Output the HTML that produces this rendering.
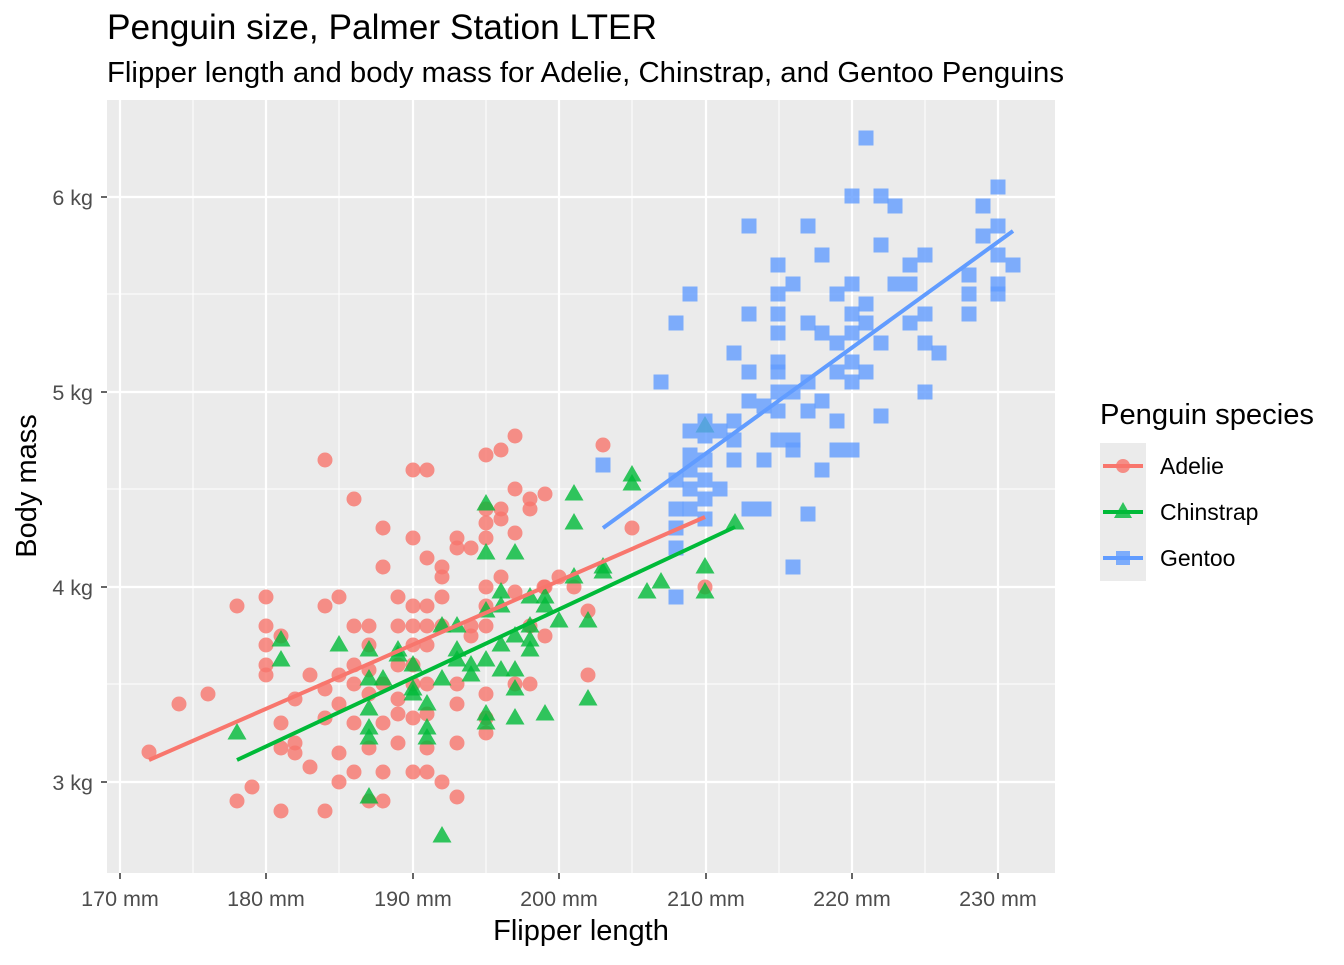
<!DOCTYPE html>
<html><head><meta charset="utf-8"><style>
html,body{margin:0;padding:0;background:#fff}
svg text{font-family:"Liberation Sans",Arial,sans-serif}
</style></head><body>
<svg id="s" width="1344" height="960" xmlns="http://www.w3.org/2000/svg">
<rect x="0" y="0" width="1344" height="960" fill="#fff"/>
<rect x="107" y="100" width="948" height="773" fill="#EBEBEB"/>
<g id="grid"></g>
<g id="pts"></g>
<line x1="149" y1="760" x2="705" y2="517" stroke="#F8766D" stroke-width="4"/>
<line x1="237" y1="760" x2="735" y2="527" stroke="#00BA38" stroke-width="4"/>
<line x1="603" y1="528" x2="1013" y2="231" stroke="#619CFF" stroke-width="4"/>
<text x="107" y="39" font-size="35" fill="#000" textLength="550" lengthAdjust="spacingAndGlyphs">Penguin size, Palmer Station LTER</text>
<text x="107" y="82" font-size="29" fill="#000" textLength="957" lengthAdjust="spacingAndGlyphs">Flipper length and body mass for Adelie, Chinstrap, and Gentoo Penguins</text>
<g font-size="21.5" fill="#4D4D4D" text-anchor="end">
<text x="93" y="205">6 kg</text><text x="93" y="400">5 kg</text><text x="93" y="595">4 kg</text><text x="93" y="790">3 kg</text>
</g>
<g font-size="21.5" fill="#4D4D4D" text-anchor="middle">
<text x="120" y="906">170 mm</text><text x="266" y="906">180 mm</text><text x="413" y="906">190 mm</text><text x="559" y="906">200 mm</text><text x="706" y="906">210 mm</text><text x="852" y="906">220 mm</text><text x="998" y="906">230 mm</text>
</g>
<g stroke="#333" stroke-width="1.5">
<line x1="101" y1="197" x2="107" y2="197"/><line x1="101" y1="392" x2="107" y2="392"/><line x1="101" y1="587" x2="107" y2="587"/><line x1="101" y1="782" x2="107" y2="782"/>
<line x1="120" y1="873" x2="120" y2="879"/><line x1="266" y1="873" x2="266" y2="879"/><line x1="413" y1="873" x2="413" y2="879"/><line x1="559" y1="873" x2="559" y2="879"/><line x1="706" y1="873" x2="706" y2="879"/><line x1="852" y1="873" x2="852" y2="879"/><line x1="998" y1="873" x2="998" y2="879"/>
</g>
<text x="581" y="940" font-size="29" text-anchor="middle">Flipper length</text>
<text transform="translate(36,486) rotate(-90)" font-size="29" text-anchor="middle">Body mass</text>
<text x="1100" y="424" font-size="29" textLength="214" lengthAdjust="spacingAndGlyphs">Penguin species</text>
<rect x="1100" y="443" width="46" height="46" fill="#EBEBEB"/>
<rect x="1100" y="489" width="46" height="46" fill="#EBEBEB"/>
<rect x="1100" y="535" width="46" height="46" fill="#EBEBEB"/>
<line x1="1103" y1="466" x2="1143" y2="466" stroke="#F8766D" stroke-width="4"/>
<circle cx="1123" cy="466" r="7" fill="#F8766D" opacity="0.8"/>
<line x1="1103" y1="512" x2="1143" y2="512" stroke="#00BA38" stroke-width="4"/>
<polygon points="1123,502 1132,518 1114,518" fill="#00BA38" opacity="0.8"/>
<line x1="1103" y1="558" x2="1143" y2="558" stroke="#619CFF" stroke-width="4"/>
<rect x="1116" y="551" width="14" height="14" fill="#619CFF" opacity="0.8"/>
<g font-size="23"><text x="1160" y="474">Adelie</text><text x="1160" y="520">Chinstrap</text><text x="1160" y="566">Gentoo</text></g>
</svg>
<script>
var NS="http://www.w3.org/2000/svg",g=document.getElementById('grid'),p=document.getElementById('pts');
function el(t,a,par){var e=document.createElementNS(NS,t);for(var k in a)e.setAttribute(k,a[k]);par.appendChild(e);return e;}
[193,339,486,632,779,925].forEach(function(x){el('line',{x1:x,y1:100,x2:x,y2:873,stroke:'#fff','stroke-width':1},g)});
[294,489,684].forEach(function(y){el('line',{x1:107,y1:y,x2:1055,y2:y,stroke:'#fff','stroke-width':1},g)});
[120,266,413,559,706,852,998].forEach(function(x){el('line',{x1:x,y1:100,x2:x,y2:873,stroke:'#fff','stroke-width':2.2},g)});
[197,392,587,782].forEach(function(y){el('line',{x1:107,y1:y,x2:1055,y2:y,stroke:'#fff','stroke-width':2.2},g)});
var A=[[149,752],[179,704],[208,694],[237,606],[237,801],[252,787],[266,597],[266,626],[266,645],[266,665],[266,675],[281,636],[281,723],[281,748],[281,811],[295,699],[295,743],[295,753],[310,675],[310,767],[325,460],[325,606],[325,689],[325,718],[325,811],[339,597],[339,675],[339,704],[339,753],[339,782],[354,499],[354,626],[354,665],[354,684],[354,723],[354,772],[369,626],[369,645],[369,670],[369,694],[369,748],[369,801],[383,528],[383,567],[383,684],[383,723],[383,772],[383,801],[398,597],[398,626],[398,665],[398,699],[398,714],[398,743],[413,470],[413,538],[413,606],[413,626],[413,645],[413,665],[413,684],[413,718],[413,772],[427,470],[427,558],[427,606],[427,626],[427,645],[427,684],[427,714],[427,748],[427,772],[442,567],[442,577],[442,597],[442,626],[442,782],[457,538],[457,548],[457,684],[457,704],[457,743],[457,797],[471,548],[471,626],[471,636],[486,455],[486,509],[486,523],[486,538],[486,587],[486,606],[486,626],[486,694],[486,718],[486,733],[501,450],[501,509],[501,519],[501,577],[515,436],[515,489],[515,533],[515,592],[515,684],[530,499],[530,509],[530,626],[530,684],[545,494],[545,587],[545,636],[559,577],[574,587],[588,611],[588,675],[603,445],[632,528],[705,587],[544,587]];
var C=[[237,733],[281,640],[281,660],[339,645],[369,650],[369,679],[369,709],[369,728],[369,738],[369,797],[383,679],[398,650],[413,665],[413,689],[413,694],[427,704],[427,728],[427,738],[442,626],[442,679],[442,836],[457,626],[457,660],[471,665],[471,675],[486,504],[486,553],[486,611],[486,660],[486,714],[486,723],[501,606],[501,645],[501,670],[515,553],[515,636],[515,670],[515,689],[515,718],[530,626],[530,640],[530,650],[545,597],[545,606],[545,714],[559,621],[574,494],[574,523],[574,577],[588,621],[588,699],[603,567],[603,572],[632,475],[632,484],[647,592],[661,582],[705,426],[705,567],[705,592],[735,523],[501,592],[530,597],[457,650],[398,655]];
var G=[[603,465],[661,382],[676,323],[676,480],[676,509],[676,528],[676,548],[676,597],[690,294],[690,431],[690,455],[690,470],[690,489],[690,509],[705,421],[705,436],[705,460],[705,480],[705,499],[705,519],[720,489],[720,431],[734,353],[734,440],[734,460],[734,421],[749,226],[749,314],[749,372],[749,401],[749,509],[764,406],[764,460],[764,509],[778,265],[778,294],[778,314],[778,333],[778,362],[778,372],[778,392],[778,411],[778,440],[793,284],[793,392],[793,440],[793,450],[793,567],[808,226],[808,323],[808,411],[808,514],[822,255],[822,333],[822,401],[822,470],[837,294],[837,343],[837,421],[837,450],[852,196],[852,284],[852,314],[852,333],[852,362],[852,382],[852,450],[866,138],[866,304],[866,372],[881,196],[881,245],[881,343],[881,416],[895,206],[895,284],[910,265],[910,284],[910,323],[925,255],[925,314],[925,343],[925,392],[939,353],[969,275],[969,294],[969,314],[983,206],[983,236],[998,187],[998,226],[998,255],[998,284],[998,294],[1013,265],[866,323],[837,372],[808,382]];
A.forEach(function(q){el('circle',{cx:q[0],cy:q[1],r:7.5,fill:'#F8766D',opacity:0.8},p)});
C.forEach(function(q){el('polygon',{points:(q[0])+','+(q[1]-10)+' '+(q[0]+9.5)+','+(q[1]+6.5)+' '+(q[0]-9.5)+','+(q[1]+6.5),fill:'#00BA38',opacity:0.8},p)});
G.forEach(function(q){el('rect',{x:q[0]-7.5,y:q[1]-7.5,width:15,height:15,fill:'#619CFF',opacity:0.8},p)});
</script>
</body></html>
